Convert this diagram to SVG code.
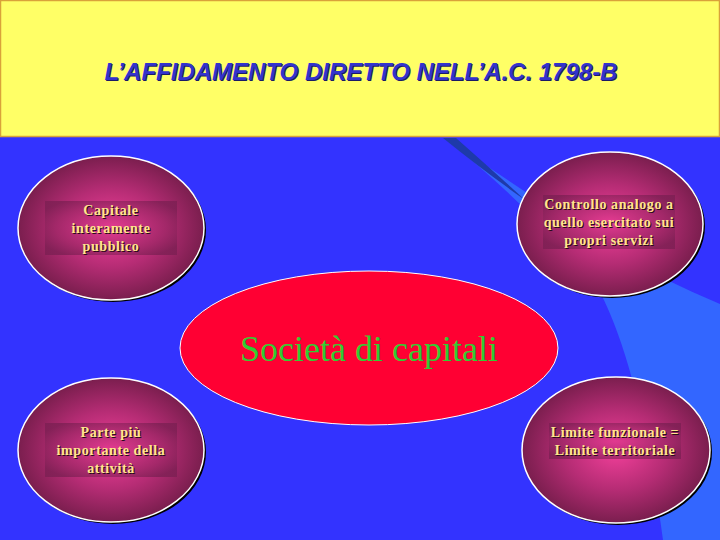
<svg xmlns="http://www.w3.org/2000/svg" width="720" height="540" viewBox="0 0 720 540">
<defs>
<radialGradient id="ballGrad" cx="50%" cy="50%" r="50%">
<stop offset="0" stop-color="#F2409A"/>
<stop offset="0.55" stop-color="#B52C74"/>
<stop offset="1" stop-color="#7A1E4E"/>
</radialGradient>
<radialGradient id="boxGrad" cx="50%" cy="50%" r="60%">
<stop offset="0" stop-color="#E0398F"/>
<stop offset="0.7" stop-color="#9E2766"/>
<stop offset="1" stop-color="#7A1F52"/>
</radialGradient>
<style>
.ball{fill:url(#ballGrad);stroke:#FFFFFF;stroke-width:1.5}
.shadow{fill:#000000}
.box{fill:url(#boxGrad);opacity:0.75}
.lbl{font-family:"Liberation Serif","Times New Roman",serif;font-weight:bold;font-size:14px;fill:#FFE58F;text-anchor:middle;letter-spacing:0.6px}
.lblsh{font-family:"Liberation Serif","Times New Roman",serif;font-weight:bold;font-size:14px;fill:#2A0A1A;text-anchor:middle;letter-spacing:0.6px}
.title{font-family:"Liberation Sans",Arial,sans-serif;font-weight:bold;font-style:italic;font-size:24px;text-anchor:middle}
</style>
</defs>

<!-- background -->
<rect x="0" y="0" width="720" height="540" fill="#3333FF"/>
<path d="M445,138 Q540,215 600,292 Q640,370 663,540 L720,540 L720,304 Q620,262 560,215 Q500,175 445,138 Z" fill="#3366FF"/>
<path d="M443,138 L456,138 Q490,168 525,200 Q485,172 443,138 Z" fill="#1E3AAA"/>

<!-- header -->
<g id="header">
<rect x="0.5" y="0.5" width="719" height="136" fill="#FFFF66" stroke="#D9A23A" stroke-width="1.5"/>
<text class="title" x="362" y="81" fill="#1A1A66">L’AFFIDAMENTO DIRETTO NELL’A.C. 1798-B</text>
<text class="title" x="361" y="80" fill="#3333CC">L’AFFIDAMENTO DIRETTO NELL’A.C. 1798-B</text>
</g>

<!-- central node -->
<g id="societa">
<ellipse cx="369" cy="348" rx="189" ry="77" fill="#FF0033" stroke="#FFFFFF" stroke-width="1"/>
<text x="369" y="361" font-family="'Liberation Serif','Times New Roman',serif" font-size="36" fill="#33CC33" text-anchor="middle">Società di capitali</text>
</g>

<!-- top-left -->
<g id="capitale">
<ellipse class="shadow" cx="113" cy="230" rx="93" ry="72"/>
<ellipse class="ball" cx="111" cy="228" rx="93" ry="72"/>
<rect class="box" x="45" y="201" width="132" height="54"/>
<text class="lblsh" x="112" y="216">Capitale</text>
<text class="lblsh" x="112" y="234">interamente</text>
<text class="lblsh" x="112" y="252">pubblico</text>
<text class="lbl" x="111" y="215">Capitale</text>
<text class="lbl" x="111" y="233">interamente</text>
<text class="lbl" x="111" y="251">pubblico</text>
</g>

<!-- top-right -->
<g id="controllo">
<ellipse class="shadow" cx="612" cy="226" rx="93" ry="72"/>
<ellipse class="ball" cx="610" cy="224" rx="93" ry="72"/>
<rect class="box" x="543" y="195" width="132" height="54"/>
<text class="lblsh" x="610" y="210">Controllo analogo a</text>
<text class="lblsh" x="610" y="228">quello esercitato sui</text>
<text class="lblsh" x="610" y="246">propri servizi</text>
<text class="lbl" x="609" y="209">Controllo analogo a</text>
<text class="lbl" x="609" y="227">quello esercitato sui</text>
<text class="lbl" x="609" y="245">propri servizi</text>
</g>

<!-- bottom-left -->
<g id="parte">
<ellipse class="shadow" cx="113" cy="452" rx="93" ry="72"/>
<ellipse class="ball" cx="111" cy="450" rx="93" ry="72"/>
<rect class="box" x="45" y="423" width="132" height="54"/>
<text class="lblsh" x="112" y="438">Parte più</text>
<text class="lblsh" x="112" y="456">importante della</text>
<text class="lblsh" x="112" y="474">attività</text>
<text class="lbl" x="111" y="437">Parte più</text>
<text class="lbl" x="111" y="455">importante della</text>
<text class="lbl" x="111" y="473">attività</text>
</g>

<!-- bottom-right -->
<g id="limite">
<ellipse class="shadow" cx="618" cy="452" rx="94" ry="73"/>
<ellipse class="ball" cx="616" cy="450" rx="94" ry="73"/>
<rect class="box" x="549" y="423" width="132" height="36"/>
<text class="lblsh" x="616" y="438">Limite funzionale =</text>
<text class="lblsh" x="616" y="456">Limite territoriale</text>
<text class="lbl" x="615" y="437">Limite funzionale =</text>
<text class="lbl" x="615" y="455">Limite territoriale</text>
</g>
</svg>
